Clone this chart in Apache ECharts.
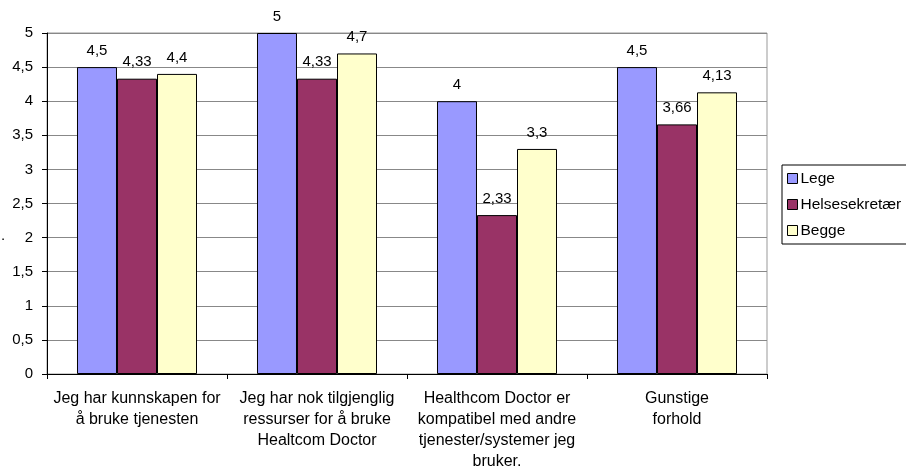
<!DOCTYPE html>
<html>
<head>
<meta charset="utf-8">
<script src="https://cdn.jsdelivr.net/npm/echarts@6/dist/echarts.min.js"></script>
<style>
  html, body { margin: 0; padding: 0; background: #fff; }
  #chart { width: 906px; height: 466px; }
</style>
</head>
<body>
<div id="chart"></div>
<script>
// Survey questions (x-axis) and mean scores per respondent group
const categories = [
  'Jeg har kunnskapen for\nå bruke tjenesten',
  'Jeg har nok tilgjenglig\nressurser for å bruke\nHealtcom Doctor',
  'Healthcom Doctor er\nkompatibel med andre\ntjenester/systemer jeg\nbruker.',
  'Gunstige\nforhold'
];
const seriesNames = ['Lege', 'Helsesekretær', 'Begge'];
const lege = [4.5, 5, 4, 4.5];
const helsesekretaer = [4.33, 4.33, 2.33, 3.66];
const begge = [4.4, 4.7, 3.3, 4.13];
const yTicks = [0, 0.5, 1, 1.5, 2, 2.5, 3, 3.5, 4, 4.5, 5];

const colors = ['#9999FF', '#993366', '#FFFFCC'];
const font = 'Liberation Sans, Arial, sans-serif';
const fmt = v => String(v).replace('.', ',');

function makeSeries(name, data, color) {
  return {
    name, type: 'bar', data,
    barGap: '0%', barCategoryGap: '33.33%',
    itemStyle: { color, borderColor: '#000', borderWidth: 1 },
    label: {
      show: true, position: 'top', distance: 9,
      color: '#000', fontFamily: font, fontSize: 15,
      formatter: p => fmt(p.value)
    }
  };
}

const chart = echarts.init(document.getElementById('chart'), null, { renderer: 'canvas' });
chart.setOption({
  animation: false,
  backgroundColor: '#fff',
  grid: {
    left: 47, top: 33, width: 720, height: 341,
    outerBoundsMode: 'none', containLabel: false,
    show: true, borderColor: '#999', borderWidth: 1, backgroundColor: 'transparent'
  },
  legend: {
    orient: 'vertical', left: 782, top: 165,
    data: seriesNames,
    itemWidth: 10, itemHeight: 10, itemGap: 9,
    padding: [5, 40, 5, 5],
    borderColor: '#000', borderWidth: 1, borderRadius: 0,
    icon: 'rect',
    itemStyle: { borderColor: '#000', borderWidth: 1 },
    textStyle: { color: '#000', fontFamily: font, fontSize: 15.5, lineHeight: 17, padding: [0, 0, 0, -2] }
  },
  xAxis: {
    type: 'category', data: categories,
    axisLine: { lineStyle: { color: '#000', width: 1 } },
    axisTick: { show: true, length: 5, inside: false, lineStyle: { color: '#000' } },
    axisLabel: {
      color: '#000', fontFamily: font, fontSize: 16, lineHeight: 21,
      margin: 14, interval: 0
    }
  },
  yAxis: {
    type: 'value', min: yTicks[0], max: yTicks[yTicks.length - 1], interval: 0.5,
    axisLine: { show: true, lineStyle: { color: '#000', width: 1 } },
    axisTick: { show: true, length: 5, lineStyle: { color: '#000' } },
    axisLabel: {
      color: '#000', fontFamily: font, fontSize: 15, margin: 14,
      formatter: v => fmt(v)
    },
    splitLine: { show: true, lineStyle: { color: '#888', width: 1 } }
  },
  graphic: [{
    type: 'text', left: 1, top: 228,
    style: { text: '.', fill: '#000', font: '15px ' + font }
  }],
  series: [
    makeSeries(seriesNames[0], lege, colors[0]),
    makeSeries(seriesNames[1], helsesekretaer, colors[1]),
    makeSeries(seriesNames[2], begge, colors[2])
  ]
});
</script>
</body>
</html>
